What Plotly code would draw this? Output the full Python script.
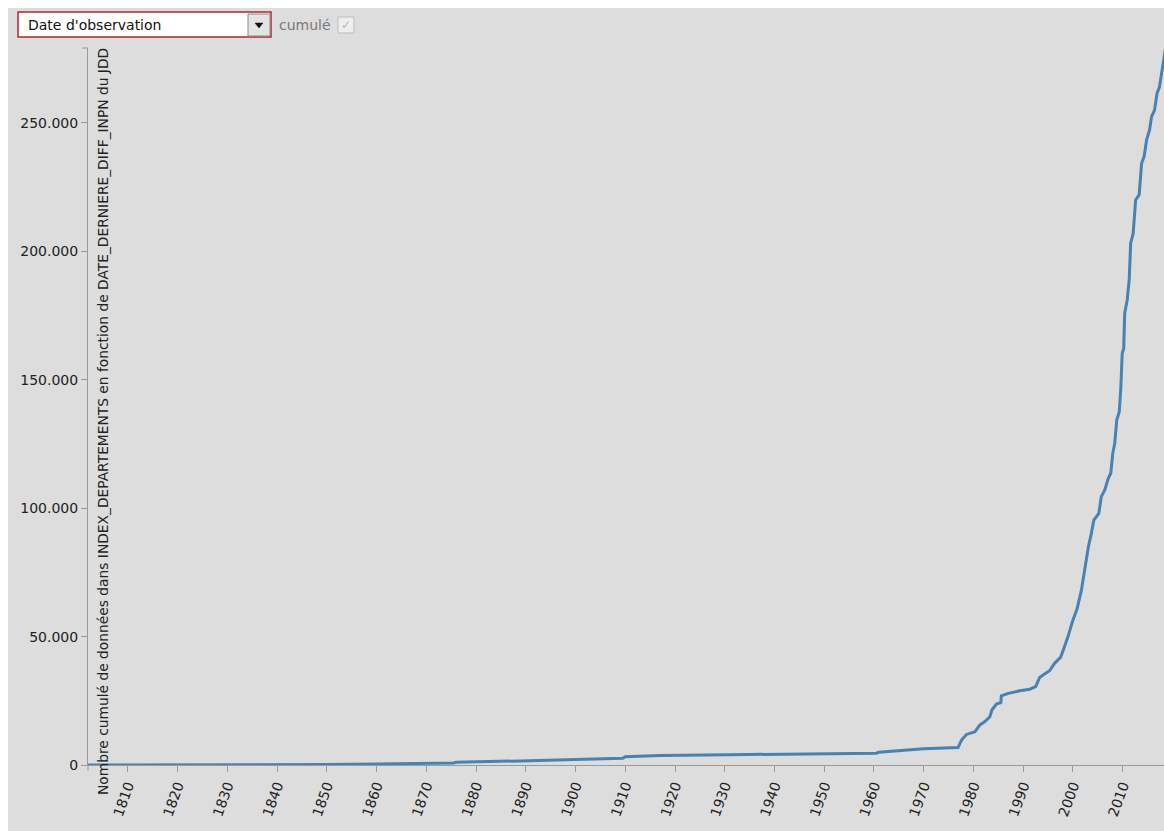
import plotly.graph_objects as go

# ---- data ----
years = [1802, 1830, 1850, 1860, 1867, 1870, 1875.5, 1876, 1888.5, 1889,
         1900, 1909.5, 1910, 1917, 1931, 1955, 1960.5, 1961, 1970, 1976.9,
         1977.6, 1978.6, 1980.3, 1981.3, 1982.3, 1983.3, 1983.7, 1984.6, 1985.5, 1985.6,
         1987, 1989.3, 1991.3, 1992.5, 1993.3, 1994, 1995.3, 1996.3, 1997.5, 1998.3,
         1999, 2000, 2000.8, 2001.7, 2002.4, 2003.1, 2003.7, 2004.2, 2005.2, 2005.7,
         2006.4, 2007.1, 2007.6, 2008.0, 2008.4, 2008.8, 2009.3, 2009.6, 2009.9, 2010.2,
         2010.4, 2010.9, 2011.3, 2011.6, 2012.1, 2012.6, 2013.3, 2013.8, 2014.3, 2014.8,
         2015.4, 2015.8, 2016.4, 2016.9, 2017.4, 2018.3, 2018.6]
cumulative = [20, 60, 150, 400, 550, 700, 800, 1100, 1300, 1600,
              2100, 2600, 3200, 3700, 4000, 4400, 4600, 5000, 6300, 6800,
              9700, 11900, 13000, 15600, 16900, 18800, 21400, 23700, 24300, 26900,
              27900, 28900, 29500, 30500, 34100, 35000, 36700, 39600, 41900, 46100,
              50000, 56500, 60600, 68100, 77200, 85000, 90200, 95400, 98000, 104500,
              107100, 111600, 113600, 121300, 125300, 134300, 137500, 146000, 160300, 162200,
              175900, 181100, 188900, 203100, 207000, 220000, 222000, 234300, 236900, 243400,
              247300, 252500, 255000, 261500, 264100, 275800, 279000]

x_ticks = [1810, 1820, 1830, 1840, 1850, 1860, 1870, 1880, 1890, 1900, 1910,
           1920, 1930, 1940, 1950, 1960, 1970, 1980, 1990, 2000, 2010]
y_ticks = [0, 50000, 100000, 150000, 200000, 250000]

y_title = "Nombre cumulé de données dans INDEX_DEPARTEMENTS en fonction de DATE_DERNIERE_DIFF_INPN du JDD"
select_label = "Date d'observation"
checkbox_label = "cumulé"

# ---- layout geometry (page pixels; body margin removed) ----
W, H = 1164, 831
L, R, T, B = 88, 0, 48, 66
PW, PH = W - L - R, H - T - B

def px(fx):
    return (fx - L) / PW

def py(fy):
    return (H - B - fy) / PH

BG = "#dddddd"
AX = "#9a9a9a"
FONT = "DejaVu Sans"

fig = go.Figure()
fig.add_trace(go.Scatter(
    x=years, y=cumulative, mode="lines",
    line=dict(color="#4682b4", width=3),
    hoverinfo="x+y", showlegend=False,
))

shapes = [
    # grey panel (white frame of 8px at top/left)
    dict(type="rect", xref="paper", yref="paper", x0=px(8), x1=px(W + 2), y0=py(8), y1=py(H + 2),
         fillcolor=BG, line=dict(width=0), layer="below"),
    # outer ticks of the axis domains
    dict(type="line", xref="paper", yref="paper", x0=px(82), x1=px(88), y0=py(48), y1=py(48),
         line=dict(color=AX, width=1)),
    dict(type="line", xref="paper", yref="paper", x0=px(88), x1=px(88), y0=py(765), y1=py(771),
         line=dict(color=AX, width=1)),
    # select box
    dict(type="rect", xref="paper", yref="paper", x0=px(18), x1=px(271), y0=py(12), y1=py(37),
         fillcolor="white", line=dict(color="#b3262b", width=1.5), layer="above"),
    dict(type="rect", xref="paper", yref="paper", x0=px(248), x1=px(270), y0=py(14), y1=py(36),
         fillcolor="#e4e4e4", line=dict(color="#8a8a8a", width=1), layer="above"),
    dict(type="path", xref="paper", yref="paper",
         path=f"M {px(255)},{py(23)} L {px(263)},{py(23)} L {px(259)},{py(28)} Z",
         fillcolor="#111111", line=dict(color="#111111", width=0.5), layer="above"),
    # checkbox
    dict(type="rect", xref="paper", yref="paper", x0=px(338), x1=px(354), y0=py(17), y1=py(33),
         fillcolor="#eeeeee", line=dict(color="#bdbdbd", width=1), layer="above"),
]

annotations = [
    dict(text=y_title, xref="paper", yref="paper", x=px(103), y=py(422),
         xanchor="center", yanchor="middle", textangle=-90, showarrow=False,
         font=dict(family=FONT, size=13.8, color="#222222")),
    dict(text=select_label, xref="paper", yref="paper", x=px(26), y=py(25),
         xanchor="left", yanchor="middle", showarrow=False,
         font=dict(family=FONT, size=14, color="#111111")),
    dict(text=checkbox_label, xref="paper", yref="paper", x=px(277), y=py(25),
         xanchor="left", yanchor="middle", showarrow=False,
         font=dict(family=FONT, size=14, color="#7a7a7a")),
    dict(text="✓", xref="paper", yref="paper", x=px(346), y=py(25),
         xanchor="center", yanchor="middle", showarrow=False,
         font=dict(family=FONT, size=12, color="#b5b5b5")),
]

fig.update_layout(
    width=W, height=H, autosize=False,
    margin=dict(l=L, r=R, t=T, b=B, pad=0),
    paper_bgcolor="white", plot_bgcolor=BG,
    separators=",.",
    font=dict(family=FONT, size=14, color="#222222"),
    showlegend=False,
    shapes=shapes,
    annotations=annotations,
    xaxis=dict(
        range=[1802, 2018.3], tickmode="array", tickvals=x_ticks,
        ticktext=[str(v) for v in x_ticks], tickangle=-70,
        showgrid=False, zeroline=False, showline=True, linecolor=AX, linewidth=1,
        ticks="outside", ticklen=6, tickwidth=1, tickcolor=AX,
        tickfont=dict(family=FONT, size=14, color="#222222"),
        fixedrange=True,
    ),
    yaxis=dict(
        range=[0, 279200], tickmode="array", tickvals=y_ticks,
        tickformat=",d",
        showgrid=False, zeroline=False, showline=True, linecolor=AX, linewidth=1,
        ticks="outside", ticklen=6, tickwidth=1, tickcolor=AX,
        tickfont=dict(family=FONT, size=14, color="#222222"),
        fixedrange=True,
    ),
)

fig.write_html("out.html", config={"displayModeBar": False},
               post_script="document.body.style.margin='0';document.body.style.overflow='hidden';")
